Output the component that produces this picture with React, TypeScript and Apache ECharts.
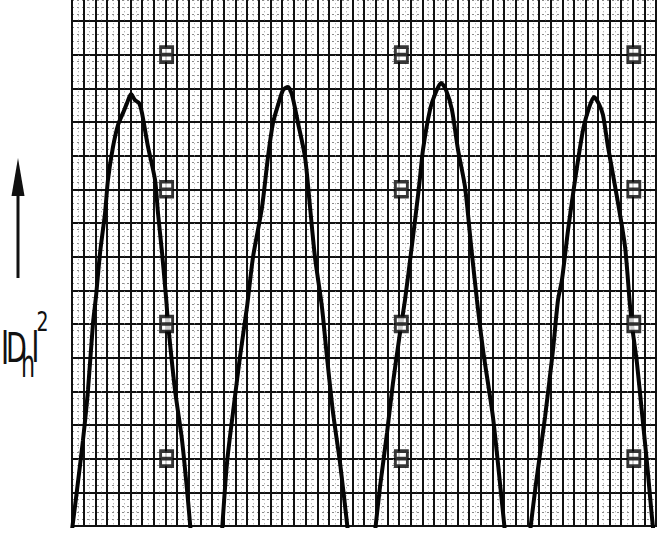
import React, { useEffect, useRef } from "react";
import * as echarts from "echarts";

// Curve |D_h|^2 (x in grid divisions, y in major divisions); null breaks the trace where it leaves the paper
const curveX: (number | null)[] = [
  0.0, 0.43, 0.94, 1.37, 1.8, 2.05, 2.4, 2.83, 3.08, 3.51, 3.94, 4.37, 4.71, 5.05, 5.39, 5.74, 5.99, 6.51, 7.11, 7.36, 7.71, 8.05, 8.22, 8.82, 9.42, 9.85, 10.19,
  null,
  12.84, 13.27, 13.78, 14.38, 14.98, 15.5, 16.27, 16.78, 17.21, 17.64, 18.07, 18.49, 18.84, 19.35, 19.95, 20.38, 20.8, 21.4, 21.83, 22.35, 22.95, 23.63,
  null,
  25.94, 26.37, 26.97, 27.48, 28.08, 28.51, 29.11, 29.71, 30.05, 30.65, 31.16, 31.59, 32.02, 32.53, 33.05, 33.65, 34.16, 34.67, 35.19, 36.04, 36.64, 37.07,
  null,
  39.21, 39.73, 40.5, 41.18, 41.61, 41.95, 42.47, 43.07, 43.75, 44.26, 44.69, 45.12, 45.46, 45.89, 46.66, 47.35, 47.77, 48.03, 48.37, 48.8, 49.23, 49.74, 50.0,
];
const curveY: (number | null)[] = [
  -0.12, 1.07, 2.55, 4.04, 6.03, 6.8, 8.11, 9.3, 10.28, 11.26, 11.91, 12.27, 12.56, 12.83, 12.65, 12.56, 12.27, 11.26, 10.28, 9.3, 8.11, 6.8, 6.03, 4.04, 2.55, 1.07, -0.27,
  null,
  -0.18, 1.87, 3.36, 5.02, 6.5, 7.99, 9.47, 10.96, 11.97, 12.5, 12.95, 13.04, 12.8, 11.97, 10.96, 9.47, 7.99, 6.5, 5.02, 3.36, 1.87, -0.18,
  null,
  -0.18, 1.16, 2.76, 4.25, 5.73, 6.71, 8.35, 10.07, 11.17, 12.36, 12.89, 13.16, 12.95, 12.36, 11.17, 10.07, 8.35, 6.71, 5.23, 3.24, 1.28, -0.18,
  null,
  -0.18, 1.28, 3.24, 5.23, 6.71, 7.31, 8.79, 10.28, 11.76, 12.41, 12.74, 12.53, 12.21, 11.26, 9.77, 8.29, 6.56, 5.73, 4.84, 3.36, 1.87, -0.03, -0.56,
];

// Square calibration marks
const markerX = [8.1, 28.2, 48.1];
const markerY = [14, 10, 6, 2];

// Axis label pieces: |D_h|^2
const labelBar = "|";
const labelMain = "D";
const labelSub = "h";
const labelSup = "2";

// Paper extent in divisions
const xMin = 0;
const xMax = 51;
const yMin = 0;
const yMax = 16;

// The chart canvas is larger than the page and shifted up so the paper runs off the edges
const CW = 680;
const CH = 560;
const OFF_Y = 20;

export default function App() {
  const ref = useRef<HTMLDivElement>(null);

  useEffect(() => {
    if (!ref.current) return;
    document.body.style.overflow = "hidden";
    const chart = echarts.init(ref.current, null, { renderer: "svg" });

    const pxX = 11.68;
    const pxY = 33.67;
    const originX = 72;
    const originY = 526 + OFF_Y;

    const curveData = curveX.map((x, i) =>
      x === null || curveY[i] === null ? "-" : [x, curveY[i] as number]
    );
    const markerData: number[][] = [];
    markerX.forEach((mx) => markerY.forEach((my) => markerData.push([mx, my])));

    const font = "DejaVu Sans";
    const hidden = {
      axisLine: { show: false },
      axisTick: { show: false },
      axisLabel: { show: false },
    };

    chart.setOption({
      animation: false,
      backgroundColor: "#ffffff",
      grid: {
        left: originX,
        right: CW - (originX + (xMax - xMin) * pxX),
        top: originY - (yMax - yMin) * pxY,
        bottom: CH - originY,
        containLabel: false,
      },
      xAxis: [
        {
          type: "value",
          min: xMin,
          max: xMax,
          interval: 0.5,
          ...hidden,
          splitLine: { show: true, lineStyle: { color: "#a0a0a0", width: 1, type: [1, 3] } },
        },
        {
          type: "value",
          min: xMin,
          max: xMax,
          interval: 1,
          ...hidden,
          splitLine: { show: true, lineStyle: { color: "#111", width: 2 } },
        },
      ],
      yAxis: [
        {
          type: "value",
          min: yMin,
          max: yMax,
          interval: 0.2,
          ...hidden,
          splitLine: { show: true, lineStyle: { color: "#8a8a8a", width: 1, type: [2, 3] } },
        },
        {
          type: "value",
          min: yMin,
          max: yMax,
          interval: 1,
          ...hidden,
          splitLine: { show: true, lineStyle: { color: "#111", width: 2 } },
        },
      ],
      series: [
        {
          type: "line",
          xAxisIndex: 0,
          yAxisIndex: 0,
          data: curveData,
          symbol: "none",
          smooth: 0.25,
          connectNulls: false,
          clip: true,
          lineStyle: { color: "#050505", width: 4 },
          z: 5,
        },
        {
          type: "scatter",
          xAxisIndex: 0,
          yAxisIndex: 0,
          data: markerData,
          symbol: "path://M0,0H10V12H0ZM0,6H10",
          symbolSize: [12, 15],
          itemStyle: { color: "#ffffff", borderColor: "#050505", borderWidth: 3.2 },
          z: 6,
        },
      ],
      graphic: [
        {
          type: "line",
          shape: { x1: 18, y1: 190 + OFF_Y, x2: 18, y2: 278 + OFF_Y },
          style: { stroke: "#111", lineWidth: 3 },
        },
        {
          type: "polygon",
          shape: { points: [[11.5, 196 + OFF_Y], [18, 158 + OFF_Y], [24.5, 196 + OFF_Y]] },
          style: { fill: "#111" },
        },
        {
          type: "text",
          x: 5,
          y: 344 + OFF_Y,
          style: { text: labelBar, fontFamily: font, fontSize: 33, fill: "#111", align: "center", verticalAlign: "middle" },
        },
        {
          type: "text",
          x: 16.5,
          y: 348 + OFF_Y,
          scaleX: 0.66,
          style: { text: labelMain, fontFamily: font, fontSize: 41, fill: "#111", align: "center", verticalAlign: "middle" },
        },
        {
          type: "text",
          x: 28,
          y: 364 + OFF_Y,
          scaleX: 0.6,
          style: { text: labelSub, fontFamily: font, fontSize: 37, fill: "#111", align: "center", verticalAlign: "middle" },
        },
        {
          type: "text",
          x: 35.5,
          y: 343 + OFF_Y,
          style: { text: labelBar, fontFamily: font, fontSize: 32, fill: "#111", align: "center", verticalAlign: "middle" },
        },
        {
          type: "text",
          x: 42.5,
          y: 321 + OFF_Y,
          scaleX: 0.7,
          style: { text: labelSup, fontFamily: font, fontSize: 27, fill: "#111", align: "center", verticalAlign: "middle" },
        },
      ],
    });

    return () => chart.dispose();
  }, []);

  return (
    <div
      ref={ref}
      style={{ position: "fixed", left: 0, top: -OFF_Y, width: CW, height: CH, background: "#fff" }}
    />
  );
}
